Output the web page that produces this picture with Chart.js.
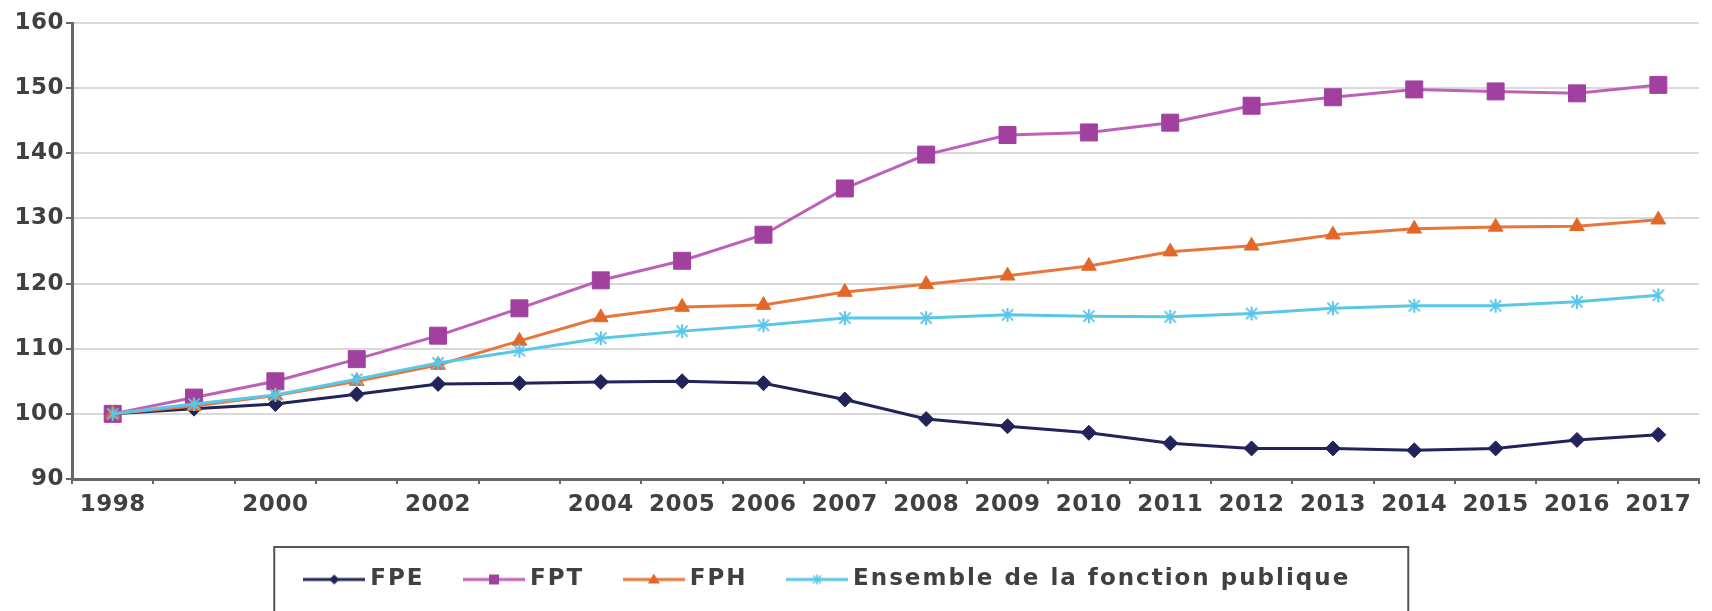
<!DOCTYPE html>
<html>
<head>
<meta charset="utf-8">
<script src="https://cdn.jsdelivr.net/npm/chart.js@4/dist/chart.umd.min.js"></script>
<style>
  html, body { margin: 0; padding: 0; background: #ffffff; overflow: hidden; }
  #wrap { width: 1712px; height: 611px; }
</style>
</head>
<body>
<div id="wrap"><canvas id="c" width="1712" height="611"></canvas></div>
<script>
// ---- Data ----
const years = ['1998','1999','2000','2001','2002','2003','2004','2005','2006','2007','2008','2009','2010','2011','2012','2013','2014','2015','2016','2017'];
const xTickLabels = ['1998','','2000','','2002','','2004','2005','2006','2007','2008','2009','2010','2011','2012','2013','2014','2015','2016','2017'];
const seriesNames = ['FPE', 'FPT', 'FPH', 'Ensemble de la fonction publique'];
const fpe = [100, 100.8, 101.5, 103.0, 104.6, 104.7, 104.9, 105.0, 104.7, 102.2, 99.2, 98.1, 97.1, 95.5, 94.7, 94.7, 94.4, 94.7, 96.0, 96.8];
const fpt = [100, 102.5, 105.0, 108.4, 112.0, 116.2, 120.5, 123.5, 127.5, 134.6, 139.8, 142.8, 143.2, 144.7, 147.3, 148.6, 149.8, 149.5, 149.2, 150.5];
const fph = [100, 101.2, 102.8, 105.0, 107.5, 111.2, 114.8, 116.4, 116.7, 118.7, 119.9, 121.2, 122.7, 124.9, 125.8, 127.5, 128.4, 128.7, 128.8, 129.8];
const ens = [100, 101.5, 102.9, 105.3, 107.8, 109.7, 111.6, 112.7, 113.6, 114.7, 114.7, 115.2, 115.0, 114.9, 115.4, 116.2, 116.6, 116.6, 117.2, 118.2];
const yTicks = [90, 100, 110, 120, 130, 140, 150, 160];

// ---- Styles ----
const colFPE = '#22235a';
const colFPTline = '#bd60b9', colFPTpt = '#a1409f';
const colFPH = '#e8763a', colFPHpt = '#e2682a';
const colENS = '#5ac6e8';
const textCol = '#404040';
const axisCol = '#676767';

function starImg(size, color, lw) {
  const c = document.createElement('canvas');
  c.width = size; c.height = size;
  const x = c.getContext('2d');
  x.strokeStyle = color; x.lineWidth = lw; x.lineCap = 'butt';
  const m = size / 2, r = size / 2 - 2;
  x.beginPath();
  x.moveTo(m - r * 0.8, m - r * 0.8); x.lineTo(m + r * 0.8, m + r * 0.8);
  x.moveTo(m + r * 0.8, m - r * 0.8); x.lineTo(m - r * 0.8, m + r * 0.8);
  x.moveTo(m, m - r); x.lineTo(m, m + r);
  x.stroke();
  return c;
}

function legendImg(lineColor, markColor, kind) {
  const w = 62, h = 20;
  const c = document.createElement('canvas');
  c.width = w; c.height = h;
  const x = c.getContext('2d');
  x.strokeStyle = lineColor; x.lineWidth = 3;
  x.beginPath(); x.moveTo(0, h / 2); x.lineTo(w, h / 2); x.stroke();
  const cx = w / 2, cy = h / 2;
  x.fillStyle = markColor; x.strokeStyle = markColor;
  x.beginPath();
  if (kind === 'diamond') {
    x.moveTo(cx, cy - 5); x.lineTo(cx + 5, cy); x.lineTo(cx, cy + 5); x.lineTo(cx - 5, cy); x.closePath(); x.fill();
  } else if (kind === 'square') {
    x.fillRect(cx - 5, cy - 5, 10, 10);
  } else if (kind === 'triangle') {
    x.moveTo(cx, cy - 6); x.lineTo(cx + 6, cy + 4); x.lineTo(cx - 6, cy + 4); x.closePath(); x.fill();
  } else {
    x.lineWidth = 1.5;
    x.moveTo(cx - 4, cy - 4); x.lineTo(cx + 4, cy + 4);
    x.moveTo(cx + 4, cy - 4); x.lineTo(cx - 4, cy + 4);
    x.moveTo(cx, cy - 5); x.lineTo(cx, cy + 5);
    x.stroke();
  }
  return c;
}

const ensStar = starImg(18, colENS, 2);
const legendImgs = [
  legendImg(colFPE, colFPE, 'diamond'),
  legendImg(colFPTline, colFPTpt, 'square'),
  legendImg(colFPH, colFPHpt, 'triangle'),
  legendImg(colENS, colENS, 'star')
];

const AXIS_LS = '0.5px';
const LEGEND_LS = '2px';
const LEGEND_SHIFT_X = -24;
const LEGEND_SHIFT_Y = 8;

function withSpacing(fn, ctx, ls) {
  return function () {
    const prev = ctx.letterSpacing;
    ctx.letterSpacing = ls;
    const r = fn.apply(this, arguments);
    ctx.letterSpacing = prev;
    return r;
  };
}

const spacingPlugin = {
  id: 'spacing',
  beforeUpdate(chart) {
    chart.ctx.letterSpacing = AXIS_LS;
    const L = chart.legend;
    if (L && !L._lsWrapped) {
      L.fit = withSpacing(L.fit, chart.ctx, LEGEND_LS);
      L.draw = withSpacing(L.draw, chart.ctx, LEGEND_LS);
      L._lsWrapped = true;
    }
  },
  beforeDraw(chart) { chart.ctx.letterSpacing = AXIS_LS; },
  afterLayout(chart) {
    const L = chart.legend;
    if (L) {
      L.left += LEGEND_SHIFT_X; L.right += LEGEND_SHIFT_X;
      L.top += LEGEND_SHIFT_Y; L.bottom += LEGEND_SHIFT_Y;
      if (typeof L.adjustHitBoxes === 'function') L.adjustHitBoxes();
    }
  }
};

const legendBoxPlugin = {
  id: 'legendBox',
  afterDraw(chart) {
    const hb = chart.legend.legendHitBoxes;
    if (!hb || !hb.length) return;
    const first = hb.reduce((a, b) => (b.left < a.left ? b : a));
    const last = hb.reduce((a, b) => (b.left > a.left ? b : a));
    const left = first.left - 6.5 - 29;
    const right = last.left + last.width + 58;
    const ctx = chart.ctx;
    ctx.save();
    ctx.strokeStyle = '#555555';
    ctx.lineWidth = 2;
    ctx.strokeRect(left, 547, right - left, 120);
    ctx.restore();
  }
};

const font = { family: '"DejaVu Sans", sans-serif', size: 23, weight: 'bold' };

new Chart(document.getElementById('c'), {
  type: 'line',
  data: {
    labels: years,
    datasets: [
      { label: seriesNames[0], data: fpe, borderColor: colFPE, backgroundColor: colFPE, borderWidth: 3,
        pointStyle: 'rectRot', pointRadius: 7.5, pointBackgroundColor: colFPE, pointBorderColor: colFPE, pointBorderWidth: 1, order: 4 },
      { label: seriesNames[1], data: fpt, borderColor: colFPTline, backgroundColor: colFPTpt, borderWidth: 3,
        pointStyle: 'rect', pointRadius: 12, pointBackgroundColor: colFPTpt, pointBorderColor: colFPTpt, pointBorderWidth: 1, order: 3 },
      { label: seriesNames[2], data: fph, borderColor: colFPH, backgroundColor: colFPHpt, borderWidth: 3,
        pointStyle: 'triangle', pointRadius: 8.5, pointBackgroundColor: colFPHpt, pointBorderColor: colFPHpt, pointBorderWidth: 1, order: 2 },
      { label: seriesNames[3], data: ens, borderColor: colENS, backgroundColor: colENS, borderWidth: 3,
        pointStyle: ensStar, pointRadius: 9, order: 1 }
    ]
  },
  options: {
    responsive: false,
    animation: false,
    events: [],
    layout: { padding: { top: 23, right: 4, bottom: 18, left: 0 } },
    scales: {
      x: {
        offset: true,
        afterFit(s) { s.height = 36; },
        grid: { display: true, drawOnChartArea: false, drawTicks: true, tickLength: 5, offset: true, color: axisCol, lineWidth: 2 },
        border: { display: true, color: axisCol, width: 3 },
        ticks: {
          autoSkip: false, maxRotation: 0, minRotation: 0, padding: 7,
          color: textCol, font: font,
          callback: (v, i) => xTickLabels[i]
        }
      },
      y: {
        min: 90, max: 160,
        afterFit(s) { s.width = 72; },
        afterBuildTicks(s) { s.ticks = yTicks.map(v => ({ value: v })); },
        grid: { color: '#d9d9d9', lineWidth: 2, drawTicks: true, tickLength: 6, tickColor: axisCol, tickWidth: 2 },
        border: { display: true, color: axisCol, width: 3 },
        ticks: { color: textCol, font: font, padding: 2 }
      }
    },
    plugins: {
      tooltip: { enabled: false },
      legend: {
        position: 'bottom',
        labels: {
          usePointStyle: true,
          pointStyleWidth: 49,
          padding: 45,
          color: textCol,
          font: { family: '"DejaVu Sans", sans-serif', size: 23, weight: 'bold' },
          generateLabels(chart) {
            const items = Chart.defaults.plugins.legend.labels.generateLabels(chart);
            items.sort((a, b) => a.datasetIndex - b.datasetIndex);
            items.forEach((it) => { it.pointStyle = legendImgs[it.datasetIndex]; it.lineWidth = 0; });
            return items;
          }
        }
      }
    }
  },
  plugins: [spacingPlugin, legendBoxPlugin]
});
</script>
</body>
</html>
